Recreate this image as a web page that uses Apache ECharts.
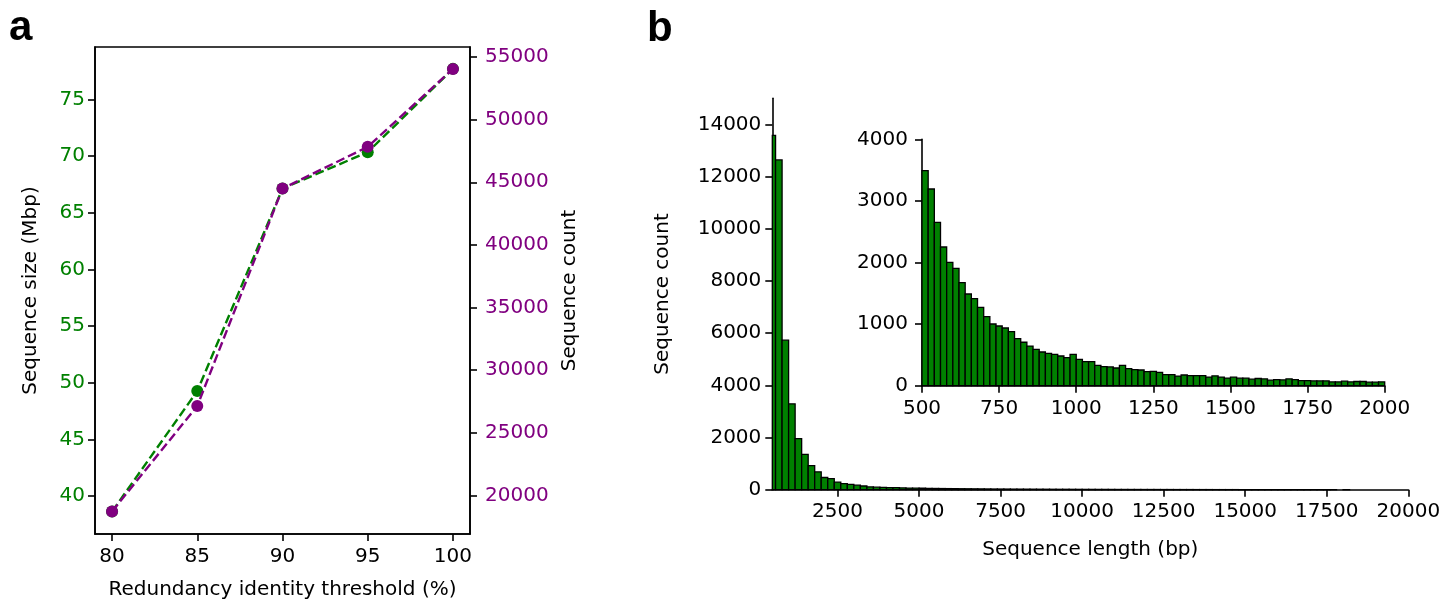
<!DOCTYPE html>
<html>
<head>
<meta charset="utf-8">
<script src="https://cdn.jsdelivr.net/npm/echarts@6/dist/echarts.min.js"></script>
<style>
  html, body { margin: 0; padding: 0; background: #fff; }
  #chart { width: 1445px; height: 605px; }
</style>
</head>
<body>
<div id="chart"></div>
<script>
// ---------- Panel a data ----------
const thresholds = [80, 85, 90, 95, 100];
const seqSizeMbp = [38.65, 49.27, 67.14, 70.35, 77.7];
const seqCount = [18720, 27140, 44500, 47830, 54050];
const aXTicks = [80, 85, 90, 95, 100];
const aLeftTicks = [40, 45, 50, 55, 60, 65, 70, 75];
const aRightTicks = [20000, 25000, 30000, 35000, 40000, 45000, 50000, 55000];

// ---------- Panel b main histogram (bins of 200 bp starting at 400 bp) ----------
const mainFirstEdge = 400;
const mainBinWidth = 200;
const mainCounts = [
  13580, 12640, 5730, 3290, 1960, 1350, 925, 685, 468, 422,
  290, 230, 207, 172, 142, 106, 95, 88, 80, 76,
  70, 64, 60, 55, 52, 48, 45, 42, 40, 37,
  35, 33, 31, 29, 27, 26, 25, 23, 22, 21,
  20, 19, 18, 17, 16, 16, 15, 14, 13, 13,
  12, 12, 11, 10, 10, 9, 9, 8, 8, 8,
  7, 7, 6, 6, 6, 5, 5, 5, 4, 4,
  4, 4, 3, 3, 3, 3, 3, 2, 2, 2,
  2, 2, 2, 2, 1, 1, 1, 0, 1, 0,
  0, 0, 0, 0, 0, 0, 0, 0
];
const mainXTicks = [2500, 5000, 7500, 10000, 12500, 15000, 17500, 20000];
const mainYTicks = [0, 2000, 4000, 6000, 8000, 10000, 12000, 14000];

// ---------- Panel b inset histogram (bins of 20 bp from 500 to 2000 bp) ----------
const insetFirstEdge = 500;
const insetBinWidth = 20;
const insetCounts = [
  3490, 3193, 2653, 2252, 2003, 1906, 1672, 1489, 1413, 1273,
  1120, 1002, 969, 937, 877, 763, 705, 644, 591, 547,
  526, 510, 482, 455, 510, 428, 390, 390, 331, 309,
  304, 287, 331, 276, 260, 255, 227, 233, 217, 179,
  179, 157, 174, 162, 162, 165, 140, 160, 140, 124,
  138, 122, 122, 106, 117, 111, 90, 100, 95, 111,
  100, 84, 84, 78, 78, 78, 62, 62, 73, 62,
  68, 68, 57, 57, 62
];
const insetXTicks = [500, 750, 1000, 1250, 1500, 1750, 2000];
const insetYTicks = [0, 1000, 2000, 3000, 4000];

// ---------- helpers ----------
const GREEN = '#008000';
const PURPLE = '#800080';
const FONT = 'DejaVu Sans';
const FS = 20;

function histData(first, width, counts) {
  return counts.map((c, i) => [first + i * width, first + (i + 1) * width, c]);
}
function renderBar(params, api) {
  const p0 = api.coord([api.value(0), api.value(2)]);
  const p1 = api.coord([api.value(1), 0]);
  const cs = params.coordSys;
  const rect = echarts.graphic.clipRectByRect(
    { x: p0[0], y: p0[1], width: p1[0] - p0[0], height: p1[1] - p0[1] },
    { x: cs.x, y: cs.y, width: cs.width, height: cs.height }
  );
  if (!rect || api.value(2) <= 0) return null;
  return {
    type: 'rect',
    shape: rect,
    style: { fill: GREEN, stroke: '#000', lineWidth: 1.3 }
  };
}
function axisCommon(ticks, margin, color) {
  return {
    axisLine: { show: true, onZero: false, lineStyle: { color: '#000', width: 1.6 } },
    axisTick: { show: true, length: 7, lineStyle: { color: '#000', width: 1.6 }, customValues: ticks },
    axisLabel: {
      color: color || '#000', fontFamily: FONT, fontSize: FS, customValues: ticks, margin: margin,
      formatter: v => String(v)
    },
    splitLine: { show: false },
    nameTextStyle: { color: '#000', fontFamily: FONT, fontSize: FS }
  };
}

const chart = echarts.init(document.getElementById('chart'), null, { renderer: 'canvas' });

const option = {
  animation: false,
  backgroundColor: '#fff',
  grid: [
    { left: 95, top: 47, width: 375, height: 492, show: true, borderColor: '#000', borderWidth: 1.6, backgroundColor: 'transparent' },
    { left: 772.3, top: 98.3, width: 636, height: 391.4 },
    { left: 922, top: 139.3, width: 462.7, height: 246.4 }
  ],
  xAxis: [
    Object.assign(axisCommon(aXTicks, 13), {
      type: 'value', gridIndex: 0, min: 79, max: 101, position: 'bottom',
      name: 'Redundancy identity threshold (%)', nameLocation: 'middle', nameGap: 46
    }),
    Object.assign(axisCommon(mainXTicks, 12), {
      type: 'value', gridIndex: 1, min: 500, max: 20000, position: 'bottom',
      name: 'Sequence length (bp)', nameLocation: 'middle', nameGap: 50
    }),
    Object.assign(axisCommon(insetXTicks, 13), {
      type: 'value', gridIndex: 2, min: 500, max: 2000, position: 'bottom'
    })
  ],
  yAxis: [
    Object.assign(axisCommon(aLeftTicks, 10, GREEN), {
      type: 'value', gridIndex: 0, min: 36.66, max: 79.63, position: 'left',
      name: 'Sequence size (Mbp)', nameLocation: 'middle', nameGap: 54
    }),
    Object.assign(axisCommon(aRightTicks, 15, PURPLE), {
      type: 'value', gridIndex: 0, min: 16918, max: 55800, position: 'right',
      name: 'Sequence count', nameLocation: 'middle', nameGap: 90
    }),
    Object.assign(axisCommon(mainYTicks, 11), {
      type: 'value', gridIndex: 1, min: 0, max: 15000, position: 'left',
      name: 'Sequence count', nameLocation: 'middle', nameGap: 100
    }),
    Object.assign(axisCommon(insetYTicks, 14), {
      type: 'value', gridIndex: 2, min: 0, max: 4000, position: 'left'
    })
  ],
  series: [
    {
      type: 'line', xAxisIndex: 0, yAxisIndex: 0,
      data: thresholds.map((t, i) => [t, seqSizeMbp[i]]),
      symbol: 'circle', symbolSize: 12,
      itemStyle: { color: GREEN },
      lineStyle: { color: GREEN, width: 2.4, type: [9, 4] },
      z: 3
    },
    {
      type: 'line', xAxisIndex: 0, yAxisIndex: 1,
      data: thresholds.map((t, i) => [t, seqCount[i]]),
      symbol: 'circle', symbolSize: 12,
      itemStyle: { color: PURPLE },
      lineStyle: { color: PURPLE, width: 2.4, type: [9, 4] },
      z: 4
    },
    {
      type: 'custom', xAxisIndex: 1, yAxisIndex: 2,
      renderItem: renderBar,
      data: histData(mainFirstEdge, mainBinWidth, mainCounts),
      z: 2
    },
    {
      type: 'custom', xAxisIndex: 2, yAxisIndex: 3,
      renderItem: renderBar,
      data: histData(insetFirstEdge, insetBinWidth, insetCounts),
      z: 2
    }
  ],
  graphic: [
    { type: 'text', left: 9, top: 7, style: { text: 'a', fontFamily: 'Liberation Sans', fontWeight: 'bold', fontSize: 42, fill: '#000' } },
    { type: 'text', left: 647, top: 8, style: { text: 'b', fontFamily: 'Liberation Sans', fontWeight: 'bold', fontSize: 42, fill: '#000' } }
  ]
};
chart.setOption(option);
</script>
</body>
</html>
